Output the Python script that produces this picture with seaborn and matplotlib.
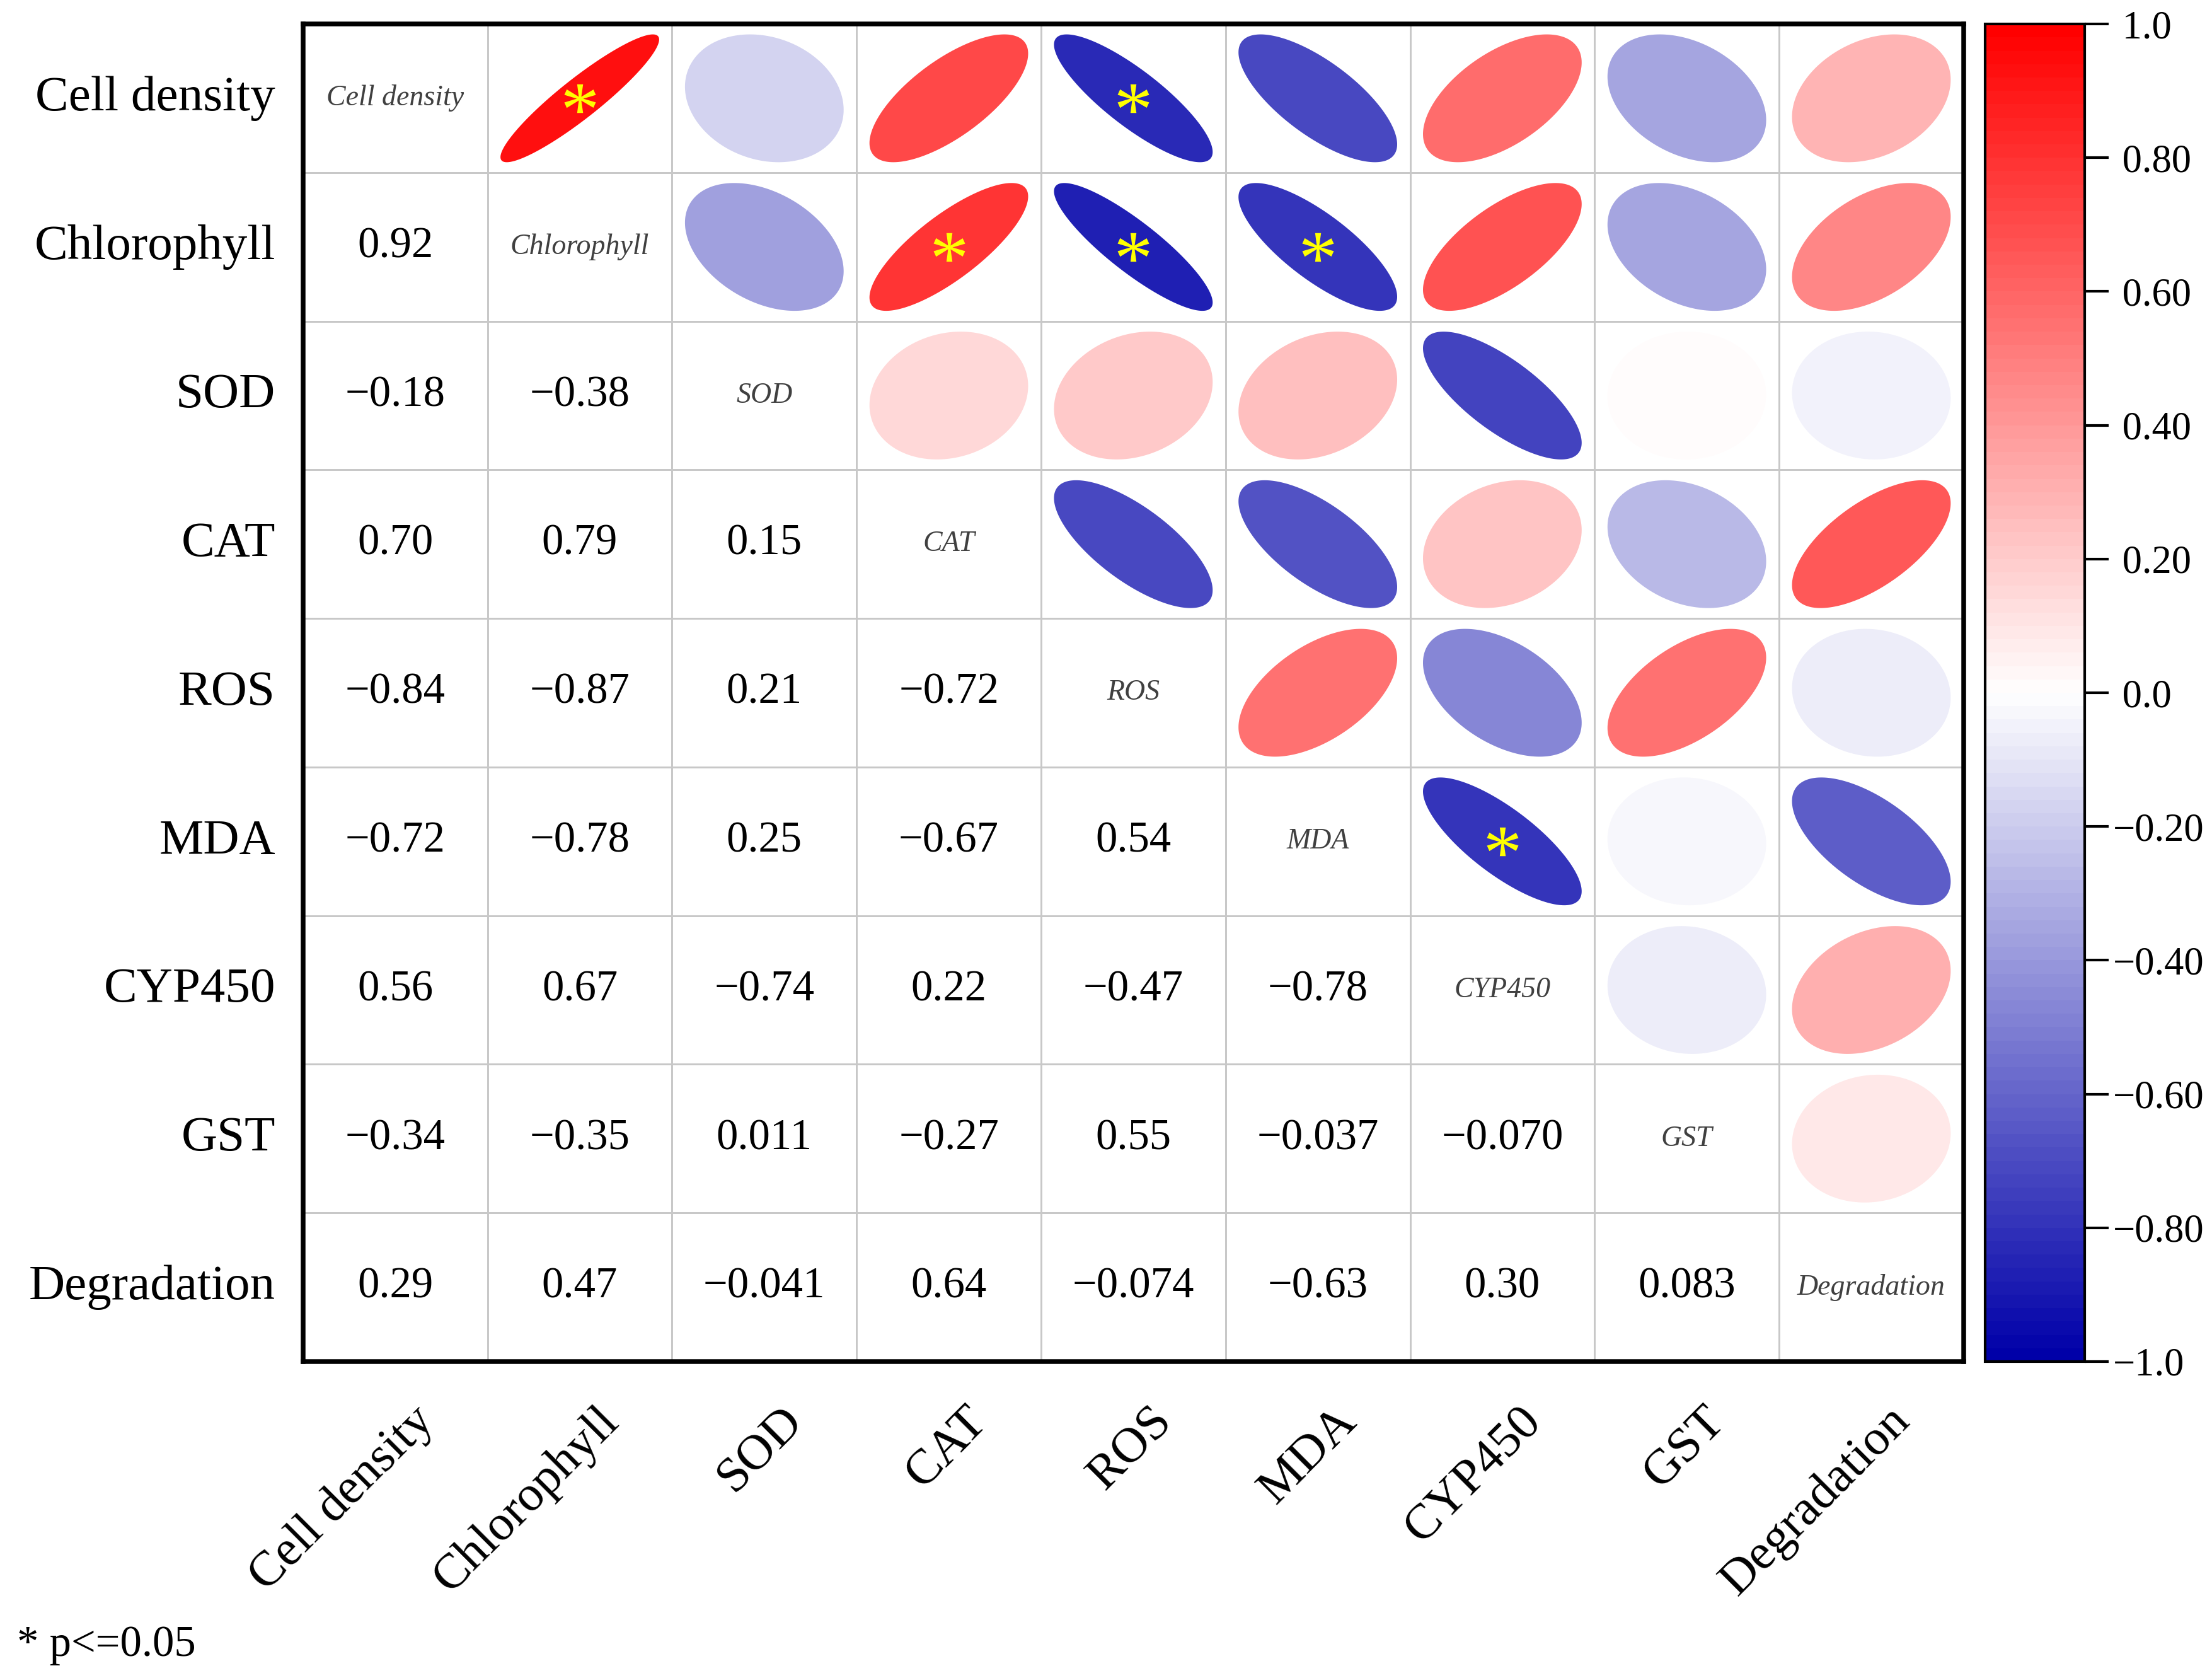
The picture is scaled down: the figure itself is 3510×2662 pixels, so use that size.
import numpy as np
import matplotlib
matplotlib.use('Agg')
import matplotlib.pyplot as plt
import seaborn as sns
from matplotlib.colors import LinearSegmentedColormap, ListedColormap, Normalize
from matplotlib.patches import Polygon
from matplotlib.path import Path
from matplotlib.textpath import TextPath
from matplotlib.font_manager import FontProperties
from matplotlib.transforms import ScaledTranslation

# Data
variables = ["Cell density", "Chlorophyll", "SOD", "CAT", "ROS", "MDA",
             "CYP450", "GST", "Degradation"]

# lower triangle of the correlation matrix, row by row (row 0 is diagonal only)
r_chlorophyll = [0.92]
r_sod = [-0.18, -0.38]
r_cat = [0.70, 0.79, 0.15]
r_ros = [-0.84, -0.87, 0.21, -0.72]
r_mda = [-0.72, -0.78, 0.25, -0.67, 0.54]
r_cyp450 = [0.56, 0.67, -0.74, 0.22, -0.47, -0.78]
r_gst = [-0.34, -0.35, 0.011, -0.27, 0.55, -0.037, -0.070]
r_degradation = [0.29, 0.47, -0.041, 0.64, -0.074, -0.63, 0.30, 0.083]

# pairs with p <= 0.05
significant = [(0, 1), (0, 4), (1, 3), (1, 4), (1, 5), (5, 6)]

cbar_ticks = [-1.0, -0.8, -0.6, -0.4, -0.2, 0.0, 0.2, 0.4, 0.6, 0.8, 1.0]
cbar_ticklabels = ["\u22121.0", "\u22120.80", "\u22120.60", "\u22120.40", "\u22120.20",
                   " 0.0", " 0.20", " 0.40", " 0.60", " 0.80", " 1.0"]

# build symmetric matrix
lower_rows = [[], r_chlorophyll, r_sod, r_cat, r_ros, r_mda, r_cyp450, r_gst, r_degradation]
n = len(variables)
corr = np.eye(n)
for i, row in enumerate(lower_rows):
    for j, v in enumerate(row):
        corr[i, j] = v
        corr[j, i] = v

# Styling
sns.set_theme(style='white')
plt.rcParams['font.family'] = ['Liberation Serif', 'DejaVu Serif']
plt.rcParams['axes.unicode_minus'] = True

cmap = LinearSegmentedColormap.from_list('corr', ['#0000A8', '#FFFFFF', '#FF0000'], N=100)
norm = Normalize(-1, 1)


def fmt(v):
    return ('{:#.2g}'.format(v)).replace('-', '\u2212')


# centred asterisk marker
tp = TextPath((0, 0), '*', size=10, prop=FontProperties(family='Liberation Serif'))
verts = tp.vertices.copy()
codes = tp.codes
for k in range(len(verts)):
    if codes[k] == Path.CLOSEPOLY:
        verts[k] = verts[k - 1]
ctr = (verts.min(0) + verts.max(0)) / 2
star = Path(verts - ctr, codes)

fig = plt.figure(figsize=(11.7, 2662 / 300), dpi=300)
ax = fig.add_axes([0.1370, 0.1886, 0.7507, 0.7971])

sns.heatmap(np.zeros((n, n)), cmap=ListedColormap(['white']), cbar=False,
            linewidths=0.6, linecolor='#c8c8c8',
            xticklabels=variables, yticklabels=variables, ax=ax)

t = np.linspace(0, 2 * np.pi, 240)
for i in range(n):
    for j in range(n):
        cx, cy = j + 0.5, i + 0.5
        r = corr[i, j]
        if i == j:
            ax.text(cx, cy, variables[i], ha='center', va='center', fontsize=11,
                    style='italic', color='#404040')
        elif i > j:
            ax.text(cx, cy, fmt(r), ha='center', va='center', fontsize=16.5, color='black')
        else:
            a = np.arccos(r)
            xs = cx + 0.43 * np.cos(t + a / 2)
            ys = cy - 0.43 * np.cos(t - a / 2)
            ax.add_patch(Polygon(np.column_stack([xs, ys]), closed=True,
                                 facecolor=cmap(norm(r)), edgecolor='none', zorder=3))

for (i, j) in significant:
    ax.plot(j + 0.5, i + 0.5, marker=star, ms=12, color='#FFFF00',
            markeredgewidth=0, linestyle='none', zorder=4)

for sp in ax.spines.values():
    sp.set_visible(True)
    sp.set_color('black')
    sp.set_linewidth(1.8)

ax.tick_params(axis='both', length=0)
ax.tick_params(axis='y', pad=10.5)
ax.tick_params(axis='x', pad=14)
ax.set_yticklabels(variables, rotation=0, fontsize=19, color='black')
ax.set_xticklabels(variables, rotation=45, ha='right', va='top',
                   rotation_mode='anchor', fontsize=19, color='black')
offset = ScaledTranslation(6 / 72, 0, fig.dpi_scale_trans)
for lbl in ax.get_xticklabels():
    lbl.set_transform(lbl.get_transform() + offset)

# colour bar
cax = fig.add_axes([0.8974, 0.1886, 0.0450, 0.7971])
sm = plt.cm.ScalarMappable(norm=norm, cmap=cmap)
cb = fig.colorbar(sm, cax=cax, ticks=cbar_ticks)
cb.ax.set_yticklabels(cbar_ticklabels)
cb.ax.tick_params(length=9.2, width=1, pad=1.5, labelsize=15, color='black',
                  labelcolor='black', right=True)
cb.outline.set_linewidth(1.0)
cb.outline.set_edgecolor('black')

fig.text(0.0077, 0.0195, '* p<=0.05', ha='left', va='center', fontsize=16.5, color='black')

fig.savefig('out.png', dpi=300)
